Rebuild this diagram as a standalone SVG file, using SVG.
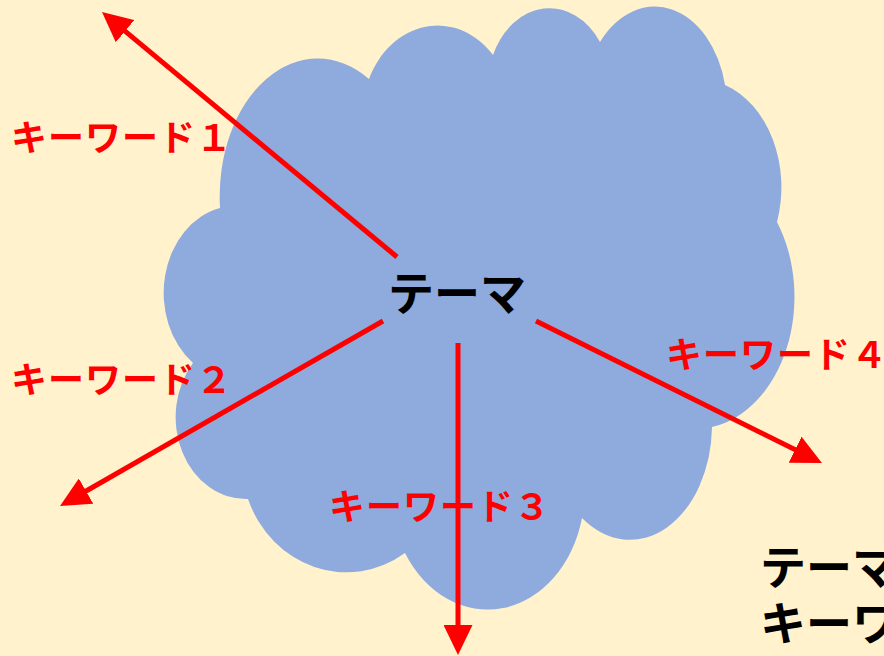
<svg xmlns="http://www.w3.org/2000/svg" width="884" height="656" viewBox="0 0 884 656">
<style>
.lbl{font-family:"Noto Sans CJK JP","Noto Sans",sans-serif;font-weight:bold;font-size:36px;fill:#FF0000;letter-spacing:1px}
.ttl{font-family:"Noto Sans CJK JP","Noto Sans",sans-serif;font-weight:bold;font-size:46px;fill:#000000}
.arr{stroke:#FF0000;stroke-width:5;fill:none;marker-end:url(#head)}
</style>
<defs>
<marker id="head" viewBox="0 0 30 29" refX="20" refY="14.5" markerWidth="30" markerHeight="29" markerUnits="userSpaceOnUse" orient="auto">
<path d="M0,0 L30,14.5 L0,29 Z" fill="#FF0000"/>
</marker>
</defs>
<rect x="0" y="0" width="884" height="656" fill="#FFF2CC"/>
<g id="cloud">
<path fill="#8FAADC" d="M220,208 A98,138 0 0 1 369,79 A75,90 0 0 1 493,55 A62,80 0 0 1 600,42 A72,101 0 0 1 725,85 A83,108 0 0 1 777,222 A99,132 0 0 1 712,427 A82,115 0 0 1 582,518 A97,119 0 0 1 405,553 A105,113 0 0 1 248,499 A70,82 0 0 1 193,363 A72,87 0 0 1 220,208 Z"/>
</g>
<g id="connectors">
<line class="arr" x1="397" y1="257" x2="109.7" y2="18.4"/>
<line class="arr" x1="383" y1="321" x2="68.7" y2="501"/>
<line class="arr" x1="458" y1="343" x2="458" y2="645"/>
<line class="arr" x1="536" y1="321" x2="813" y2="458.6"/>
</g>
<g id="theme"><text class="ttl" x="457" y="310" text-anchor="middle">テーマ</text></g>
<g id="kw1"><text class="lbl" x="11" y="151">キーワード１</text></g>
<g id="kw2"><text class="lbl" x="11" y="393">キーワード２</text></g>
<g id="kw3"><text class="lbl" x="329" y="520">キーワード３</text></g>
<g id="kw4"><text class="lbl" x="666" y="368">キーワード４</text></g>
<g id="note"><text class="ttl" x="760" y="584">テーマ</text><text class="ttl" x="760" y="640">キーワ</text></g>
</svg>
